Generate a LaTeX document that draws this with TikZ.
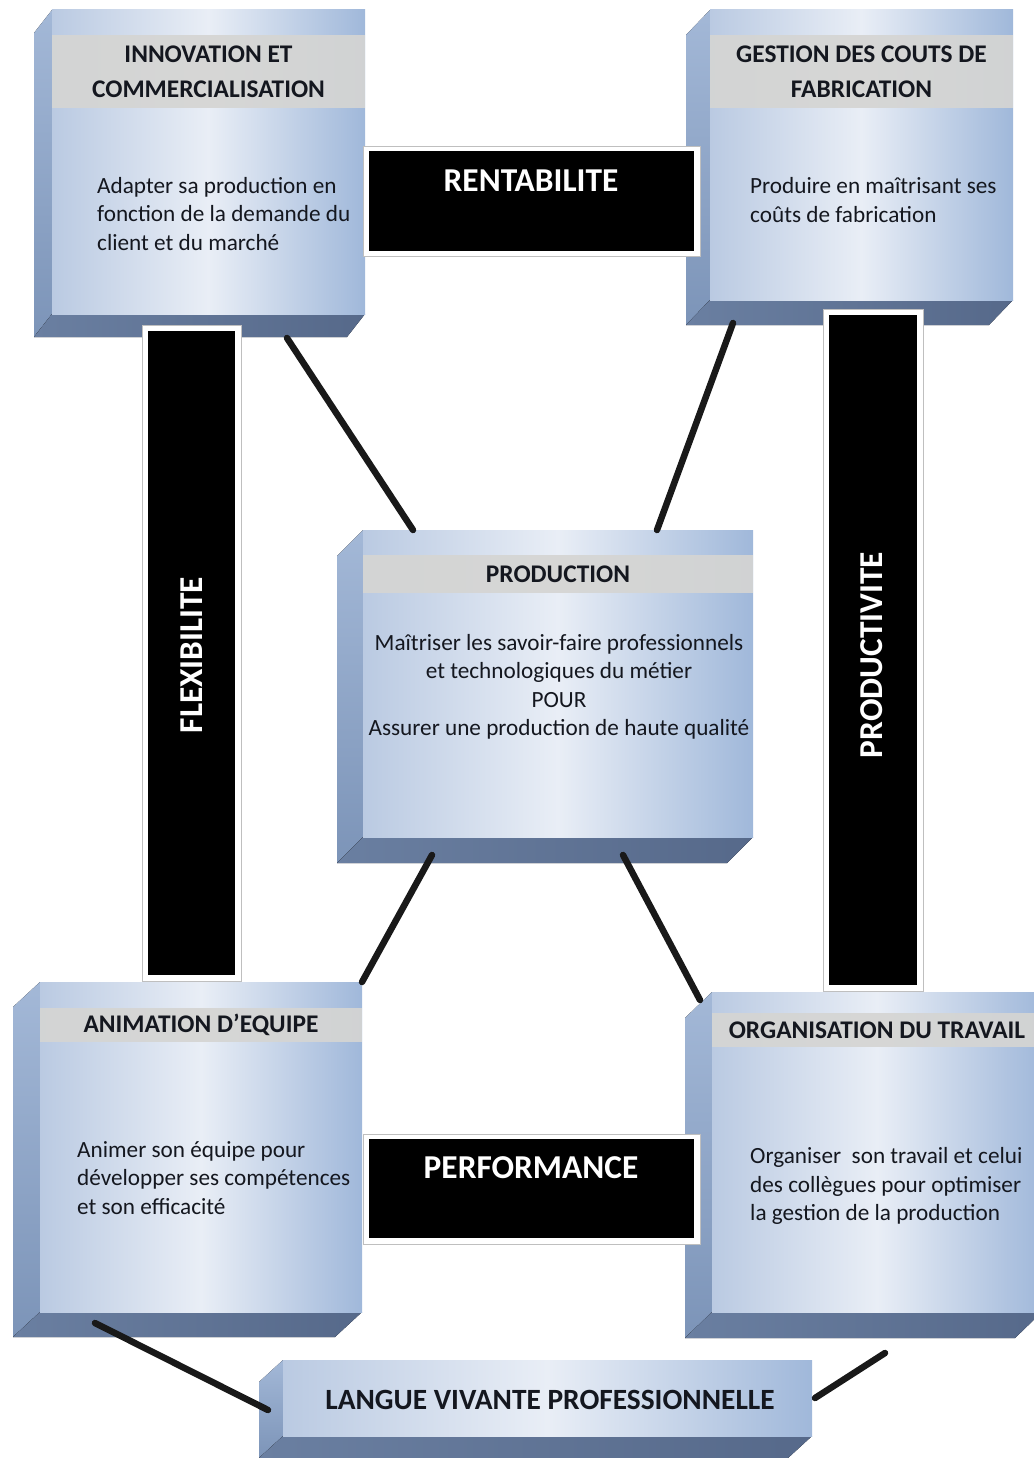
\documentclass[tikz,border=0pt]{standalone}
\usepackage{fontspec}
\setmainfont{Carlito}
\usetikzlibrary{calc}
\definecolor{txt}{HTML}{14171F}
\definecolor{fL}{HTML}{BACAE2}
\definecolor{fM}{HTML}{E9EEF6}
\definecolor{fR}{HTML}{A0B8DA}
\definecolor{sideA}{HTML}{A3B8D7}
\definecolor{sideB}{HTML}{7C94B8}
\definecolor{botA}{HTML}{6A7FA1}
\definecolor{botB}{HTML}{56698A}
\definecolor{band}{HTML}{D5D5D3}
\tikzset{
  frontface/.style={inner sep=0pt, left color=fL, right color=fR, middle color=fM},
  sideface/.style={top color=sideA, bottom color=sideB},
  bottomface/.style={left color=botA, right color=botB},
  header/.style={fill=band, fill opacity=0.92, text opacity=1, inner sep=0pt,
    font=\fontsize{25.5}{35}\selectfont\bfseries, text=txt, align=center},
  body/.style={font=\fontsize{23.3}{28.5}\selectfont, text=txt, inner sep=0pt},
  conn/.style={line width=6.5bp, line cap=round, black!90},
  barouter/.style={fill=white, draw=black!25, line width=0.8bp, inner sep=0pt},
  barinner/.style={fill=black, inner sep=0pt},
  bartext/.style={text=white, font=\fontsize{33.5}{33.5}\selectfont\bfseries, inner sep=0pt},
}
% #1 name, #2 x1, #3 y1, #4 x2, #5 y2, #6 dx, #7 dy
\newcommand\mycube[7]{%
  \fill[sideface] (#2,#3) -- (#2,#5) -- ({#2-#6},{#5+#7}) -- ({#2-#6},{#3+#7}) -- cycle;
  \fill[bottomface] (#2,#5) -- (#4,#5) -- ({#4-#6},{#5+#7}) -- ({#2-#6},{#5+#7}) -- cycle;
  \node[frontface, minimum width={(#4-#2)*1bp}, minimum height={(#5-#3)*1bp}]
    (#1) at ({(#2+#4)/2},{(#3+#5)/2}) {};
}
\begin{document}
\begin{tikzpicture}[x=1bp,y=-1bp]
\useasboundingbox[fill=white] (0,0) rectangle (1033,1458);

% boxes
\mycube{tl}{52}{10}{365}{314}{18}{23}
\mycube{tr}{710}{10}{1013}{300}{24}{25}
\mycube{c}{363}{530}{753}{837}{26}{26}
\mycube{bl}{40}{982}{362}{1312}{27}{25}
\mycube{br}{712}{992}{1042}{1312}{27}{26}
\mycube{b}{283}{1360}{812}{1436}{24}{22}

% headers
\node[header, minimum width=313bp, minimum height=73bp] (tl-h) at (208.5,71.5)
  {INNOVATION ET\\COMMERCIALISATION};
\node[header, minimum width=303bp, minimum height=73bp] (tr-h) at (861.5,71.5)
  {GESTION DES COUTS DE\\FABRICATION};
\node[header, minimum width=390bp, minimum height=38bp] (c-h) at (558,574)
  {PRODUCTION};
\node[header, minimum width=322bp, minimum height=34bp] (bl-h) at (201,1025)
  {ANIMATION D’EQUIPE};
\node[header, minimum width=330bp, minimum height=34bp] (br-h) at (877,1030)
  {ORGANISATION DU TRAVAIL};

% bodies
\node[body, anchor=west, align=left] (tl-b) at (97,214)
  {Adapter sa production en\\fonction de la demande du\\client et du marché};
\node[body, anchor=west, align=left] (tr-b) at (750,200)
  {Produire en maîtrisant ses\\coûts de fabrication};
\node[body, align=center] (c-b) at (559,687)
  {Maîtriser les savoir-faire professionnels\\et technologiques du métier\\POUR\\Assurer une production de haute qualité};
\node[body, anchor=west, align=left] (bl-b) at (77,1178)
  {Animer son équipe pour\\développer ses compétences\\et son efficacité};
\node[body, anchor=west, align=left] (br-b) at (750,1186)
  {Organiser\ \ son travail et celui\\des collègues pour optimiser\\la gestion de la production};
\node[font=\fontsize{29.5}{29.5}\selectfont\bfseries, text=txt, inner sep=0pt] (b-t) at (550,1400)
  {LANGUE VIVANTE PROFESSIONNELLE};

% connectors
\coordinate (tl-s) at (287,338);  \coordinate (c-nw) at (413,530);
\coordinate (tr-s) at (733,323);  \coordinate (c-ne) at (657,530);
\coordinate (c-sw) at (432,855);  \coordinate (bl-n) at (362,982);
\coordinate (c-se) at (623,855);  \coordinate (br-n) at (700,1000);
\coordinate (bl-s) at (95,1323);  \coordinate (b-w) at (268,1410);
\coordinate (br-s) at (885,1353); \coordinate (b-e) at (815,1398);
\draw[conn] (tl-s) -- (c-nw);
\draw[conn] (tr-s) -- (c-ne);
\draw[conn] (c-sw) -- (bl-n);
\draw[conn] (c-se) -- (br-n);
\draw[conn] (bl-s) -- (b-w);
\draw[conn] (br-s) -- (b-e);

% bars
\node[barouter, minimum width=337bp, minimum height=110bp] (rent-o) at (531.5,201) {};
\node[barinner, minimum width=325bp, minimum height=100bp] (rent) at (531.5,201) {};
\node[bartext] (rent-t) at (531,181) {RENTABILITE};

\node[barouter, minimum width=99bp, minimum height=656bp] (flex-o) at (191.5,653) {};
\node[barinner, minimum width=87bp, minimum height=644bp] (flex) at (191.5,653) {};
\node[bartext, rotate=90] (flex-t) at (192,655) {FLEXIBILITE};

\node[barouter, minimum width=100bp, minimum height=682bp] (prod-o) at (873,650) {};
\node[barinner, minimum width=88bp, minimum height=670bp] (prod) at (873,650) {};
\node[bartext, rotate=90] (prod-t) at (872,655) {PRODUCTIVITE};

\node[barouter, minimum width=337bp, minimum height=110bp] (perf-o) at (531.5,1189) {};
\node[barinner, minimum width=325bp, minimum height=99bp] (perf) at (531.5,1188.5) {};
\node[bartext] (perf-t) at (531,1168) {PERFORMANCE};
\end{tikzpicture}
\end{document}
